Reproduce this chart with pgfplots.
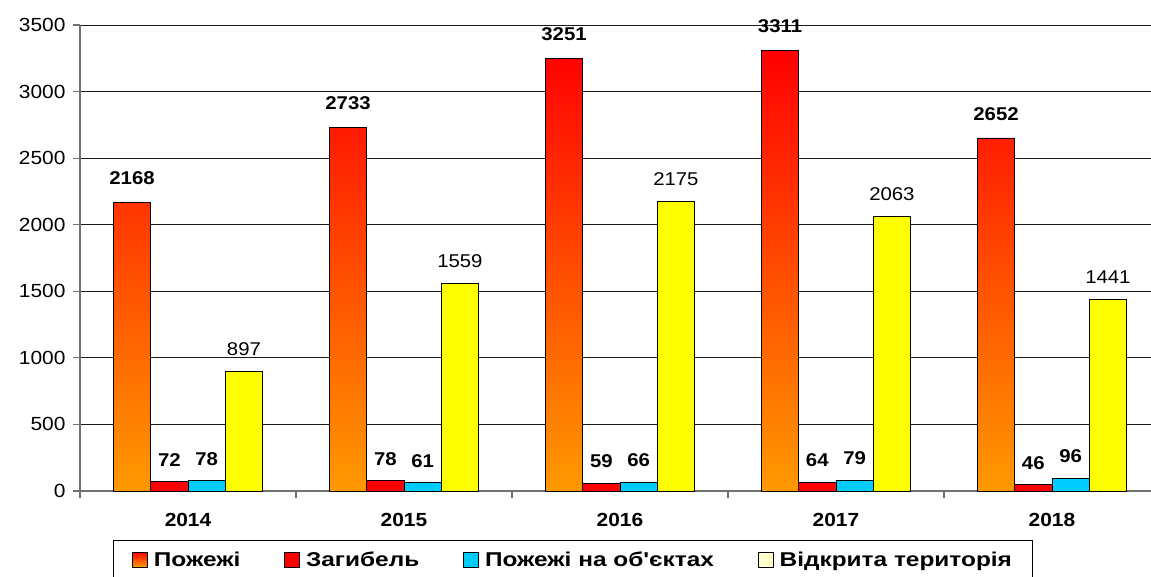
\documentclass[border=0pt]{standalone}
\usepackage{pgfplots}
\pgfplotsset{compat=1.18}
\usepackage{fontspec}
\setmainfont[FakeStretch=1.1]{Liberation Sans}
\newfontfamily\legfont[FakeStretch=1.22]{Liberation Sans}
\definecolor{orangeb}{HTML}{FF9900}
\definecolor{cyanb}{HTML}{00CCFF}
\definecolor{yellowb}{HTML}{FFFF00}
\definecolor{paleyel}{HTML}{FFFFCC}
\definecolor{gridc}{HTML}{1A1A1A}
\definecolor{axc}{HTML}{707070}
\begin{document}
\begin{tikzpicture}
\begin{axis}[
  scale only axis, width=1080pt, height=466pt,
  xmin=-0.5, xmax=4.5, ymin=0, ymax=3500,
  ybar=0pt, bar width=37.3pt,
  ytick={0,500,...,3500},
  ymajorgrids, grid style={draw=gridc, line width=1pt},
  xtick={-0.5,0.5,1.5,2.5,3.5,4.5},
  xticklabels={2014,2015,2016,2017,2018,{}},
  xticklabel style={xshift=108pt, yshift=-12pt, font=\bfseries\fontsize{19}{19}\selectfont},
  yticklabel style={font=\fontsize{19}{19}\selectfont, xshift=-4pt},
  /pgf/number format/assume math mode=true,
  /pgf/number format/1000 sep={},
  scaled y ticks=false,
  axis x line*=bottom, axis y line*=left,
  axis line style={draw=axc, line width=1.2pt},
  tick align=outside, major tick length=7pt,
  tick style={draw=axc, line width=1.2pt},
  legend image code/.code={\draw[#1, line width=0.8pt] (0pt,-7.5pt) rectangle (15pt,7.5pt);},
  legend columns=4,
  legend style={at={(0.4565,0)}, anchor=north, yshift=-49pt, draw=black, line width=1pt,
    font=\legfont\bfseries\fontsize{20}{20}\selectfont,
    inner xsep=19pt, inner ysep=9pt,
    /tikz/every odd column/.append style={column sep=4pt},
    /tikz/every even column/.append style={column sep=42pt}},
  clip=false,
  nodes near coords,
  every node near coord/.append style={text=black, anchor=south, inner sep=0pt, font=\bfseries\fontsize{18.5}{18.5}\selectfont},
]
\addplot[forget plot, bar shift=-55.95pt, draw=black, line width=0.8pt, top color=red, bottom color=orangeb,
  every node near coord/.append style={yshift=17pt}]
  coordinates {(0,2168) (1,2733) (2,3251) (3,3311) (4,2652)};
\addplot[forget plot, bar shift=-18.65pt, draw=black, line width=0.8pt, fill=red,
  every node near coord/.append style={yshift=15pt}]
  coordinates {(0,72) (1,78) (2,59) (3,64) (4,46)};
\addplot[forget plot, bar shift=18.65pt, draw=black, line width=0.8pt, fill=cyanb,
  every node near coord/.append style={yshift=15pt}]
  coordinates {(0,78) (1,61) (2,66) (3,79) (4,96)};
\addplot[forget plot, bar shift=55.95pt, draw=black, line width=0.8pt, fill=yellowb,
  every node near coord/.append style={yshift=15pt, font=\fontsize{18.5}{18.5}\selectfont}]
  coordinates {(0,897) (1,1559) (2,2175) (3,2063) (4,1441)};
\addlegendimage{draw=black, top color=red, bottom color=orangeb}
\addlegendentry{Пожежі}
\addlegendimage{draw=black, fill=red}
\addlegendentry{Загибель}
\addlegendimage{draw=black, fill=cyanb}
\addlegendentry{Пожежі на об'єктах}
\addlegendimage{draw=black, fill=paleyel}
\addlegendentry{Відкрита територія}
\coordinate (O) at (rel axis cs:0,0);
\end{axis}
\pgfresetboundingbox
\path[use as bounding box] ([shift={(-80pt,-85pt)}]O) rectangle ([shift={(1071pt,491pt)}]O);
\end{tikzpicture}
\end{document}
